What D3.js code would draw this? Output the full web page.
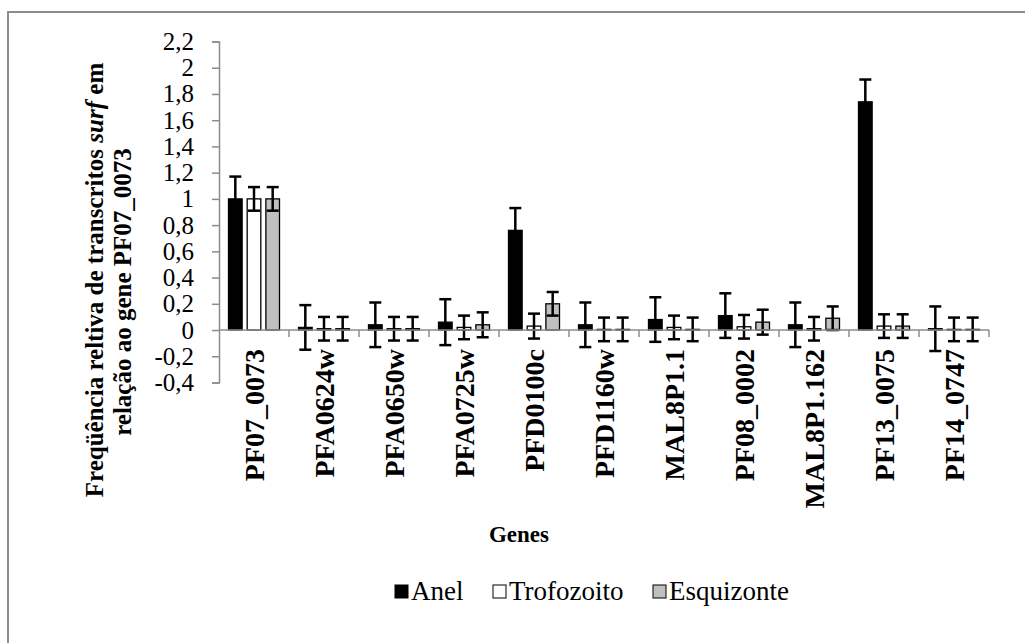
<!DOCTYPE html>
<html>
<head>
<meta charset="utf-8">
<script src="https://cdn.jsdelivr.net/npm/d3@7"></script>
<style>
  html, body { margin: 0; padding: 0; background: #fff; }
  svg { display: block; }
  svg text { font-family: "Times New Roman", Tinos, "Liberation Serif", serif; fill: #000; }
</style>
</head>
<body>
<svg id="chart" width="1025" height="643"></svg>
<script>
// Genes and relative transcript levels per parasite stage
const genes = ["PF07_0073", "PFA0624w", "PFA0650w", "PFA0725w", "PFD0100c", "PFD1160w",
               "MAL8P1.1", "PF08_0002", "MAL8P1.162", "PF13_0075", "PF14_0747"];
const stages = ["Anel", "Trofozoito", "Esquizonte"];

const anel       = [1.00, 0.02, 0.04, 0.06, 0.76, 0.04, 0.08, 0.11, 0.04, 1.74, 0.01];
const trofozoito = [1.00, 0.01, 0.01, 0.02, 0.03, 0.005, 0.02, 0.025, 0.01, 0.03, 0.005];
const esquizonte = [1.00, 0.01, 0.01, 0.04, 0.20, 0.005, 0.005, 0.06, 0.09, 0.03, 0.005];

const anelErr       = [0.17, 0.17, 0.17, 0.175, 0.17, 0.17, 0.17, 0.17, 0.17, 0.17, 0.17];
const trofozoitoErr = [0.09, 0.09, 0.09, 0.09, 0.095, 0.09, 0.09, 0.09, 0.09, 0.09, 0.09];
const esquizonteErr = [0.09, 0.09, 0.09, 0.095, 0.09, 0.09, 0.09, 0.095, 0.09, 0.09, 0.09];

const yTicks = [-0.4, -0.2, 0, 0.2, 0.4, 0.6, 0.8, 1, 1.2, 1.4, 1.6, 1.8, 2, 2.2];

const seriesValues = [anel, trofozoito, esquizonte];
const seriesErrors = [anelErr, trofozoitoErr, esquizonteErr];
const fills = ["#000000", "#ffffff", "#c0c0c0"];
const SERIF = "'Times New Roman', Tinos, 'Liberation Serif', serif";

const svg = d3.select("#chart");

// outer frame (only left and top edges fall inside the canvas)
svg.append("rect")
  .attr("x", 8).attr("y", 12).attr("width", 1040).attr("height", 660)
  .attr("fill", "none").attr("stroke", "#8c8c8c").attr("stroke-width", 2);

const x = d3.scaleBand().domain(genes).range([219, 989]).paddingInner(0).paddingOuter(0);
const xs = d3.scaleBand().domain(stages).range([x.bandwidth() / 2 - 25.5, x.bandwidth() / 2 + 25.5])
  .paddingInner(0.27).paddingOuter(0);
const y = d3.scaleLinear().domain([-0.4, 2.2]).range([382.5, 41.5]);

// bars
const groups = svg.append("g").selectAll("g")
  .data(genes).join("g")
  .attr("transform", d => `translate(${x(d)},0)`);

stages.forEach((s, si) => {
  groups.append("rect")
    .attr("x", xs(s))
    .attr("width", xs.bandwidth())
    .attr("y", (d, i) => y(Math.max(0, seriesValues[si][i])))
    .attr("height", (d, i) => Math.abs(y(seriesValues[si][i]) - y(0)))
    .attr("fill", fills[si])
    .attr("stroke", "#000")
    .attr("stroke-width", 1.3);
});

// axes
const yAxis = d3.axisLeft(y).tickValues(yTicks).tickSize(7).tickPadding(18)
  .tickFormat(d => d3.format("~g")(d).replace(".", ",").replace("−", "-"));
const gy = svg.append("g").attr("transform", "translate(219,0)").call(yAxis);
gy.attr("font-family", null).attr("font-size", null);
gy.select(".domain").attr("stroke", "#8c8c8c").attr("stroke-width", 1.5);
gy.selectAll(".tick line").attr("stroke", "#8c8c8c").attr("stroke-width", 1.5);
gy.selectAll(".tick text")
  .style("font-family", SERIF).style("font-size", "25px").attr("fill", "#000");

const gx = svg.append("g").attr("transform", `translate(0,${y(0)})`);
gx.append("line").attr("x1", 219).attr("x2", 989).attr("y1", 0).attr("y2", 0)
  .attr("stroke", "#8c8c8c").attr("stroke-width", 1.5);
gx.selectAll("line.tk").data(genes.slice(1).concat(["end"])).join("line")
  .attr("class", "tk")
  .attr("x1", (d, i) => i < genes.length - 1 ? x(d) : x.range()[1])
  .attr("x2", (d, i) => i < genes.length - 1 ? x(d) : x.range()[1])
  .attr("y1", 0).attr("y2", 7)
  .attr("stroke", "#8c8c8c").attr("stroke-width", 1.5);

// error bars
stages.forEach((s, si) => {
  const eb = groups.append("g");
  const cx = xs(s) + xs.bandwidth() / 2;
  eb.append("line")
    .attr("x1", cx).attr("x2", cx)
    .attr("y1", (d, i) => y(seriesValues[si][i] + seriesErrors[si][i]))
    .attr("y2", (d, i) => y(seriesValues[si][i] - seriesErrors[si][i]))
    .attr("stroke", "#000").attr("stroke-width", 2.5);
  [1, -1].forEach(sign => {
    eb.append("line")
      .attr("x1", cx - 6).attr("x2", cx + 6)
      .attr("y1", (d, i) => y(seriesValues[si][i] + sign * seriesErrors[si][i]))
      .attr("y2", (d, i) => y(seriesValues[si][i] + sign * seriesErrors[si][i]))
      .attr("stroke", "#000").attr("stroke-width", 2.5);
  });
});

// category labels, rotated
svg.append("g").selectAll("text")
  .data(genes).join("text")
  .attr("transform", d => `translate(${x(d) + x.bandwidth() / 2},349) rotate(-90)`)
  .attr("text-anchor", "end")
  .attr("dy", "0.35em")
  .style("font-family", SERIF)
  .style("font-size", "28px").style("font-weight", "bold")
  .text(d => d);

// y axis title, two centred lines
const yt1 = svg.append("text")
  .attr("transform", "translate(94,280) rotate(-90)")
  .attr("text-anchor", "middle").attr("dy", "0.35em")
  .style("font-family", SERIF)
  .style("font-size", "25px").style("font-weight", "bold");
yt1.append("tspan").text("Freqüência reltiva de transcritos ");
yt1.append("tspan").style("font-style", "italic").text("surf");
yt1.append("tspan").text(" em");
svg.append("text")
  .attr("transform", "translate(122,292) rotate(-90)")
  .attr("text-anchor", "middle").attr("dy", "0.35em")
  .style("font-family", SERIF)
  .style("font-size", "25px").style("font-weight", "bold")
  .text("relação ao gene PF07_0073");

// x axis title
svg.append("text")
  .attr("x", 519).attr("y", 542)
  .attr("text-anchor", "middle")
  .style("font-family", SERIF)
  .style("font-size", "23px").style("font-weight", "bold")
  .text("Genes");

// legend
const legendX = [395, 493, 653];
const lg = svg.append("g").selectAll("g").data(stages).join("g")
  .attr("transform", (d, i) => `translate(${legendX[i]},585)`);
lg.append("rect").attr("x", 0).attr("y", 0).attr("width", 13).attr("height", 13)
  .attr("fill", (d, i) => fills[i]).attr("stroke", "#000").attr("stroke-width", 1);
lg.append("text").attr("x", 16).attr("y", 15)
  .style("font-family", SERIF)
  .style("font-size", "27px")
  .text(d => d);
</script>
</body>
</html>
